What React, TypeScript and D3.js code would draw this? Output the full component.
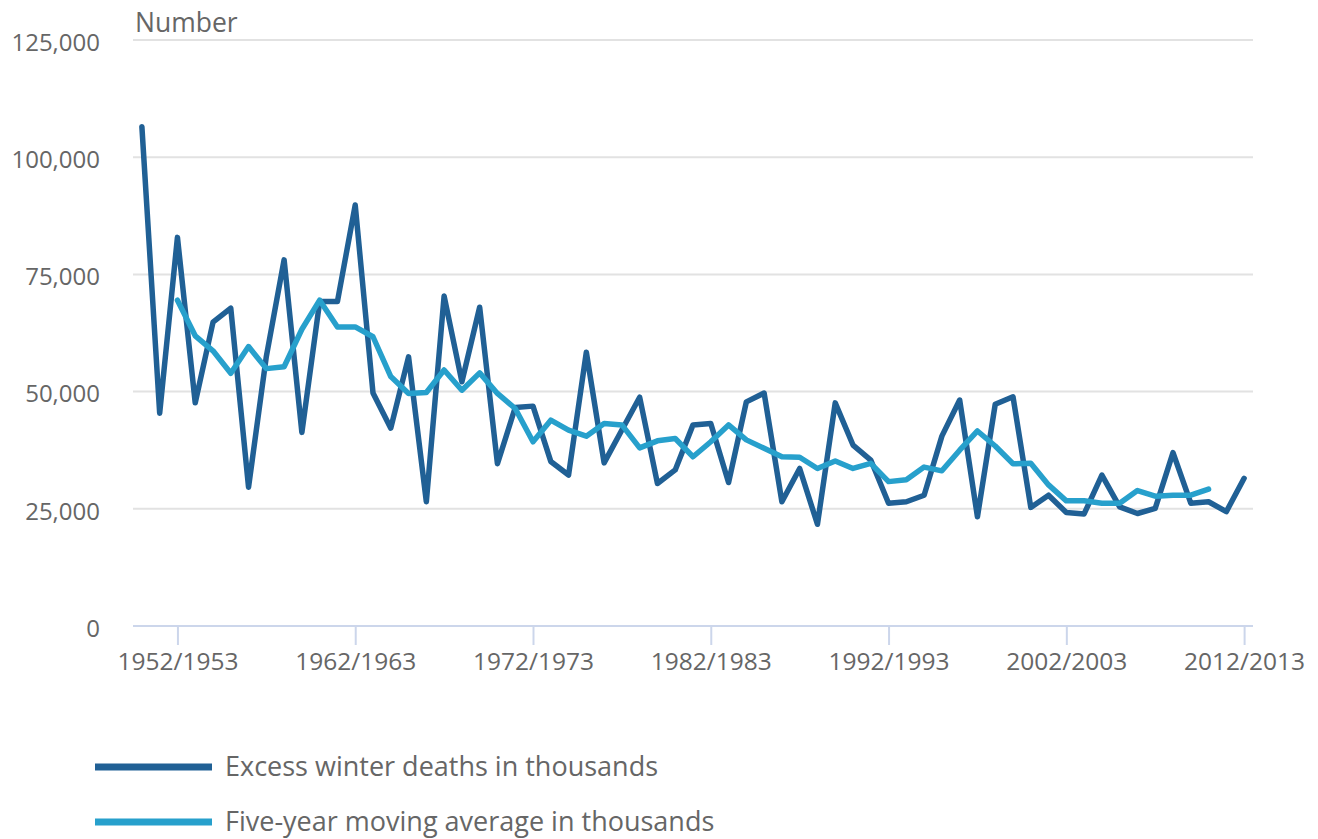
import React, { useEffect, useRef } from 'react';
import * as d3 from 'd3';

const seasons = [
  '1950/1951', '1951/1952', '1952/1953', '1953/1954', '1954/1955', '1955/1956', '1956/1957', '1957/1958', '1958/1959', '1959/1960',
  '1960/1961', '1961/1962', '1962/1963', '1963/1964', '1964/1965', '1965/1966', '1966/1967', '1967/1968', '1968/1969', '1969/1970',
  '1970/1971', '1971/1972', '1972/1973', '1973/1974', '1974/1975', '1975/1976', '1976/1977', '1977/1978', '1978/1979', '1979/1980',
  '1980/1981', '1981/1982', '1982/1983', '1983/1984', '1984/1985', '1985/1986', '1986/1987', '1987/1988', '1988/1989', '1989/1990',
  '1990/1991', '1991/1992', '1992/1993', '1993/1994', '1994/1995', '1995/1996', '1996/1997', '1997/1998', '1998/1999', '1999/2000',
  '2000/2001', '2001/2002', '2002/2003', '2003/2004', '2004/2005', '2005/2006', '2006/2007', '2007/2008', '2008/2009', '2009/2010',
  '2010/2011', '2011/2012', '2012/2013',
];

const excessDeaths = [
  106500, 45400, 82900, 47600, 64800, 67800, 29600, 57500, 78100, 41300,
  69200, 69200, 89800, 49700, 42200, 57400, 26500, 70400, 52100, 68000,
  34600, 46600, 46900, 35100, 32200, 58400, 34800, 41800, 48800, 30400,
  33300, 42900, 43200, 30600, 47800, 49700, 26500, 33600, 21700, 47600,
  38600, 35400, 26200, 26500, 27900, 40500, 48200, 23300, 47300, 48900,
  25300, 27900, 24200, 23900, 32200, 25400, 24000, 25100, 37000, 26200,
  26500, 24400, 31500,
];

const movingAverage: (number | null)[] = [
  null, null, 69500, 61900, 58700, 53900, 59600, 54900, 55300, 63300,
  69500, 63800, 63800, 61700, 53200, 49600, 49800, 54600, 50300, 54000,
  49600, 46400, 39300, 43900, 41800, 40500, 43200, 42900, 38000, 39500,
  40000, 36100, 39300, 42900, 39700, 37900, 36100, 36000, 33600, 35200,
  33600, 34700, 30800, 31200, 33900, 33100, 37500, 41600, 38400, 34600,
  34700, 30100, 26700, 26700, 26200, 26200, 28900, 27700, 27900, 27900,
  29200, null, null,
];

const xTicks = ['1952/1953', '1962/1963', '1972/1973', '1982/1983', '1992/1993', '2002/2003', '2012/2013'];
const yTicks = [0, 25000, 50000, 75000, 100000, 125000];

const seriesNames = ['Excess winter deaths in thousands', 'Five-year moving average in thousands'];
const seriesColors = ['#206095', '#27a0cc'];

const App = () => {
  const ref = useRef<HTMLDivElement>(null);

  useEffect(() => {
    document.body.style.margin = '0';
    const root = d3.select(ref.current);
    root.selectAll('svg').remove();

    const width = 1318, height = 839;
    const margin = { top: 40, right: 65, bottom: 213, left: 133 };
    const font = "'Open Sans', sans-serif";

    const svg = root.append('svg')
      .attr('width', width)
      .attr('height', height)
      .style('display', 'block')
      .style('font-family', font);

    const x = d3.scalePoint<string>()
      .domain(seasons)
      .range([margin.left, width - margin.right])
      .padding(0.5);

    const y = d3.scaleLinear()
      .domain([0, 125000])
      .range([height - margin.bottom, margin.top]);

    // gridlines
    svg.append('g')
      .selectAll('line')
      .data(yTicks.filter(d => d > 0))
      .join('line')
      .attr('x1', margin.left)
      .attr('x2', width - margin.right)
      .attr('y1', d => y(d))
      .attr('y2', d => y(d))
      .attr('stroke', '#e2e2e2')
      .attr('stroke-width', 2);

    // y labels
    svg.append('g')
      .selectAll('text')
      .data(yTicks)
      .join('text')
      .attr('x', 100)
      .attr('y', d => y(d))
      .attr('dy', '0.45em')
      .attr('text-anchor', 'end')
      .attr('fill', '#666')
      .attr('font-size', 24)
      .text(d => d3.format(',')(d));

    svg.append('text')
      .attr('x', 135)
      .attr('y', 32)
      .attr('fill', '#666')
      .attr('font-size', 26.5)
      .text('Number');

    // x axis
    const xAxis = svg.append('g')
      .attr('transform', `translate(0,${y(0)})`)
      .call(d3.axisBottom(x).tickValues(xTicks).tickSize(19).tickPadding(8).tickSizeOuter(0));
    xAxis.select('.domain')
      .attr('d', `M${margin.left},0H${width - margin.right}`)
      .attr('stroke', '#ccd6eb')
      .attr('stroke-width', 2);
    xAxis.selectAll('.tick line').attr('stroke', '#ccd6eb').attr('stroke-width', 2);
    xAxis.selectAll('.tick text')
      .attr('fill', '#666')
      .attr('font-size', 24.5)
      .attr('font-family', font);

    const line = d3.line<number | null>()
      .defined(d => d !== null)
      .x((_, i) => x(seasons[i]) as number)
      .y(d => y(d as number));

    [excessDeaths, movingAverage].forEach((series, i) => {
      svg.append('path')
        .datum(series)
        .attr('fill', 'none')
        .attr('stroke', seriesColors[i])
        .attr('stroke-width', 5.5)
        .attr('stroke-linejoin', 'round')
        .attr('stroke-linecap', 'round')
        .attr('d', line);
    });

    // legend
    const legend = svg.append('g')
      .selectAll('g')
      .data(seriesNames)
      .join('g')
      .attr('transform', (_, i) => `translate(95,${767 + i * 55})`);
    legend.append('line')
      .attr('x1', 0)
      .attr('x2', 117)
      .attr('stroke', (_, i) => seriesColors[i])
      .attr('stroke-width', 7);
    legend.append('text')
      .attr('x', 130)
      .attr('dy', '0.35em')
      .attr('fill', '#666')
      .attr('font-size', 27)
      .text(d => d);
  }, []);

  return <div ref={ref}></div>;
};

export default App;
